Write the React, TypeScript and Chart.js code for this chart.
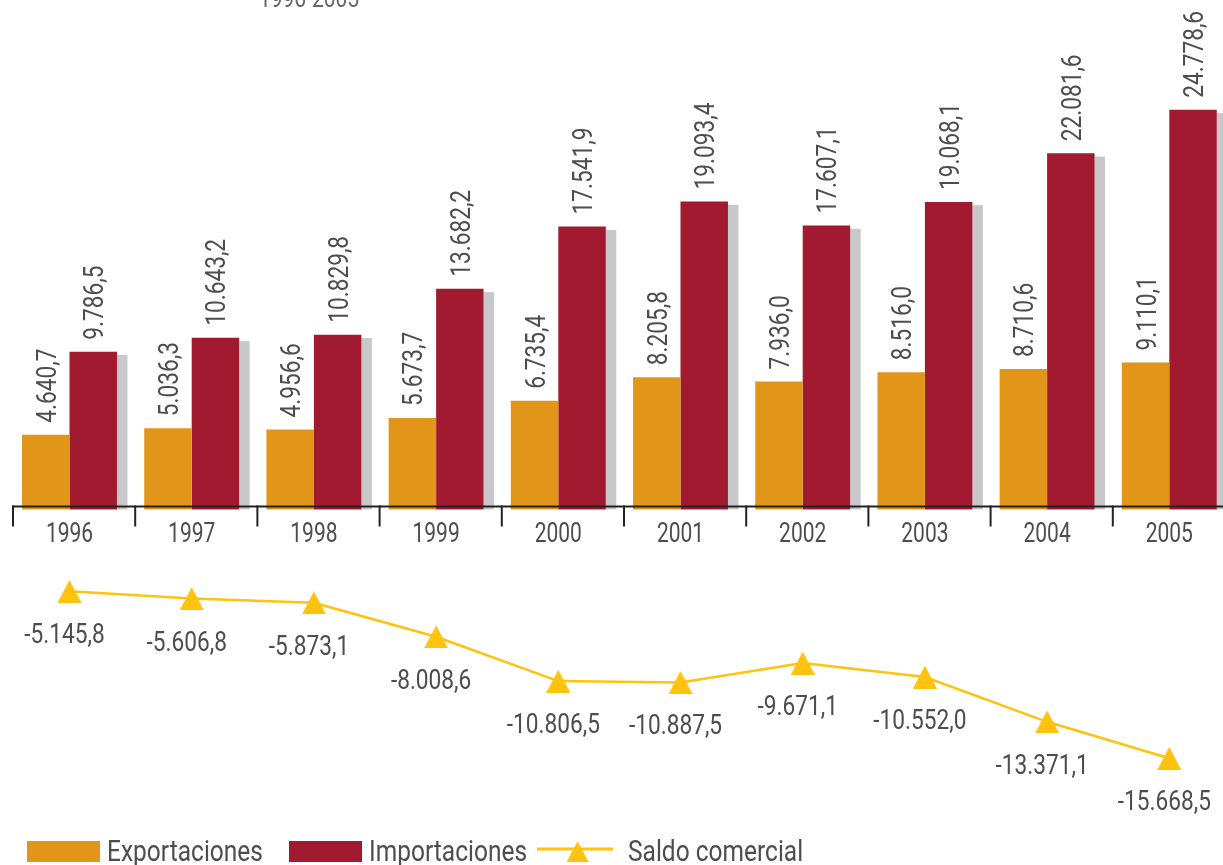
import React, { useEffect, useRef } from "react";
import { Chart, registerables } from "chart.js";

Chart.register(...registerables);

const categories = ["1996", "1997", "1998", "1999", "2000", "2001", "2002", "2003", "2004", "2005"];
const exportaciones = [4640.7, 5036.3, 4956.6, 5673.7, 6735.4, 8205.8, 7936.0, 8516.0, 8710.6, 9110.1];
const importaciones = [9786.5, 10643.2, 10829.8, 13682.2, 17541.9, 19093.4, 17607.1, 19068.1, 22081.6, 24778.6];
const saldoComercial = [-5145.8, -5606.8, -5873.1, -8008.6, -10806.5, -10887.5, -9671.1, -10552.0, -13371.1, -15668.5];
const seriesNames = ["Exportaciones", "Importaciones", "Saldo comercial"];
const subtitle = "1996-2005";

const FAMILY = "Roboto, 'DejaVu Sans Condensed', sans-serif";
const TEXT = "#4d4d4f";
const ORANGE = "#E1961A";
const CRIMSON = "#A21A30";
const SHADOW = "#C8C8CA";
const YELLOW = "#FFC20E";
const AXIS = "#222222";

function fmt(v: number): string {
  const s = Math.abs(v).toFixed(1);
  const [i, d] = s.split(".");
  const ii = i.replace(/\B(?=(\d{3})+(?!\d))/g, ".");
  return (v < 0 ? "-" : "") + ii + "," + d;
}

function makeTriangle(w: number, h: number): HTMLCanvasElement {
  const c = document.createElement("canvas");
  c.width = w;
  c.height = h;
  const g = c.getContext("2d")!;
  g.fillStyle = YELLOW;
  g.beginPath();
  g.moveTo(w / 2, 0);
  g.lineTo(w, h);
  g.lineTo(0, h);
  g.closePath();
  g.fill();
  return c;
}

// draw condensed text: (x, y) anchor, alphabetic baseline
function cText(ctx: any, text: string, x: number, y: number, size: number, sx: number, align: string, rot = 0) {
  ctx.save();
  ctx.translate(x, y);
  if (rot) ctx.rotate(rot);
  ctx.scale(sx, 1);
  ctx.font = `${size}px ${FAMILY}`;
  ctx.textAlign = align;
  ctx.textBaseline = "alphabetic";
  ctx.fillText(text, 0, 0);
  ctx.restore();
}

export default function App() {
  const ref = useRef<HTMLCanvasElement | null>(null);

  useEffect(() => {
    const canvas = ref.current!;
    const tri = makeTriangle(24, 23);

    const shadowPlugin = {
      id: "barShadow",
      beforeDatasetDraw(chart: any, args: any) {
        if (args.index !== 1) return;
        const ctx = chart.ctx;
        const meta = chart.getDatasetMeta(1);
        ctx.save();
        ctx.fillStyle = SHADOW;
        meta.data.forEach((el: any) => {
          const p = el.getProps(["x", "y", "base", "width"], true);
          ctx.fillRect(p.x + p.width / 2, p.y + 3.3, 10.5, p.base - p.y - 3.3);
        });
        ctx.restore();
      },
    };

    const decorPlugin = {
      id: "decor",
      afterDatasetsDraw(chart: any) {
        const ctx = chart.ctx;
        const xs = chart.scales.x;
        const ys = chart.scales.y;
        const y0 = ys.getPixelForValue(0);
        const W = xs.width / categories.length;
        // axis line and tick marks
        ctx.save();
        ctx.strokeStyle = AXIS;
        ctx.lineWidth = 2;
        const firstTick = xs.getPixelForValue(0) - W * 0.4624;
        ctx.beginPath();
        ctx.moveTo(firstTick - 1, y0 - 3);
        ctx.lineTo(chart.width, y0 - 3);
        ctx.stroke();
        for (let k = 0; k < categories.length; k++) {
          const tx = xs.getPixelForValue(k) - W * 0.4624;
          ctx.beginPath();
          ctx.moveTo(tx, y0 - 4);
          ctx.lineTo(tx, y0 + 17);
          ctx.stroke();
        }
        ctx.restore();

        ctx.save();
        ctx.fillStyle = TEXT;
        // category labels from the x scale
        categories.forEach((c, k) => {
          cText(ctx, c, xs.getPixelForValue(k), y0 + 32, 28, 0.75, "center");
        });
        // rotated bar labels
        [0, 1].forEach((di) => {
          const meta = chart.getDatasetMeta(di);
          const vals = di === 0 ? exportaciones : importaciones;
          meta.data.forEach((el: any, i: number) => {
            const p = el.getProps(["x", "y"], true);
            cText(ctx, fmt(vals[i]), p.x + 10, p.y - 12, 28, 0.81, "left", -Math.PI / 2);
          });
        });
        // line labels
        const lm = chart.getDatasetMeta(2);
        lm.data.forEach((el: any, i: number) => {
          const p = el.getProps(["x", "y"], true);
          cText(ctx, fmt(saldoComercial[i]), p.x - 5, p.y + 52, 28, 0.81, "center");
        });
        ctx.restore();
      },
      afterDraw(chart: any) {
        const ctx = chart.ctx;
        ctx.save();
        // subtitle (cut at top)
        ctx.fillStyle = "#666666";
        cText(ctx, subtitle, 309, 7, 26, 0.807, "center");

        // legend
        ctx.fillStyle = ORANGE;
        ctx.fillRect(27, 841, 73, 21);
        ctx.fillStyle = TEXT;
        cText(ctx, seriesNames[0], 107, 861, 29, 0.845, "left");
        ctx.fillStyle = CRIMSON;
        ctx.fillRect(289, 841, 73, 21);
        ctx.fillStyle = TEXT;
        cText(ctx, seriesNames[1], 369, 861, 29, 0.845, "left");
        ctx.strokeStyle = YELLOW;
        ctx.lineWidth = 3;
        ctx.beginPath();
        ctx.moveTo(537, 849);
        ctx.lineTo(613, 849);
        ctx.stroke();
        ctx.drawImage(tri, 577.5 - 11, 841, 22, 21);
        ctx.fillStyle = TEXT;
        cText(ctx, seriesNames[2], 628, 861, 29, 0.845, "left");
        ctx.restore();
      },
    };

    const chart = new Chart(canvas, {
      type: "bar",
      data: {
        labels: categories,
        datasets: [
          {
            label: seriesNames[0],
            data: exportaciones,
            backgroundColor: ORANGE,
            borderWidth: 0,
            categoryPercentage: 0.777,
            barPercentage: 1.0,
            yAxisID: "y",
          },
          {
            label: seriesNames[1],
            data: importaciones,
            backgroundColor: CRIMSON,
            borderWidth: 0,
            categoryPercentage: 0.777,
            barPercentage: 1.0,
            yAxisID: "y",
          },
          {
            type: "line",
            label: seriesNames[2],
            data: saldoComercial,
            borderColor: YELLOW,
            borderWidth: 2.5,
            pointStyle: tri as any,
            pointRadius: 12,
            pointBackgroundColor: YELLOW,
            yAxisID: "y2",
            tension: 0,
            clip: false as any,
          } as any,
        ],
      },
      options: {
        responsive: false,
        animation: false,
        devicePixelRatio: 1,
        layout: { autoPadding: false, padding: { left: 8.4, right: 9.6, top: 25.6, bottom: 32.9 } },
        plugins: {
          legend: { display: false },
          title: { display: false },
          tooltip: { enabled: false },
        },
        scales: {
          x: {
            type: "category",
            offset: true,
            display: false,
            grid: { display: false },
          },
          y: {
            display: false,
            min: -20000,
            max: 30000,
          },
          y2: {
            display: false,
            min: -20321,
            max: 30498,
          },
        },
      } as any,
      plugins: [shadowPlugin, decorPlugin],
    });
    return () => chart.destroy();
  }, []);

  return (
    <div style={{ position: "fixed", left: 0, top: 0, width: 1223, height: 865, overflow: "hidden", background: "#fff" }}>
      <canvas ref={ref} width={1240} height={865} style={{ display: "block", width: 1240, height: 865 }} />
    </div>
  );
}
